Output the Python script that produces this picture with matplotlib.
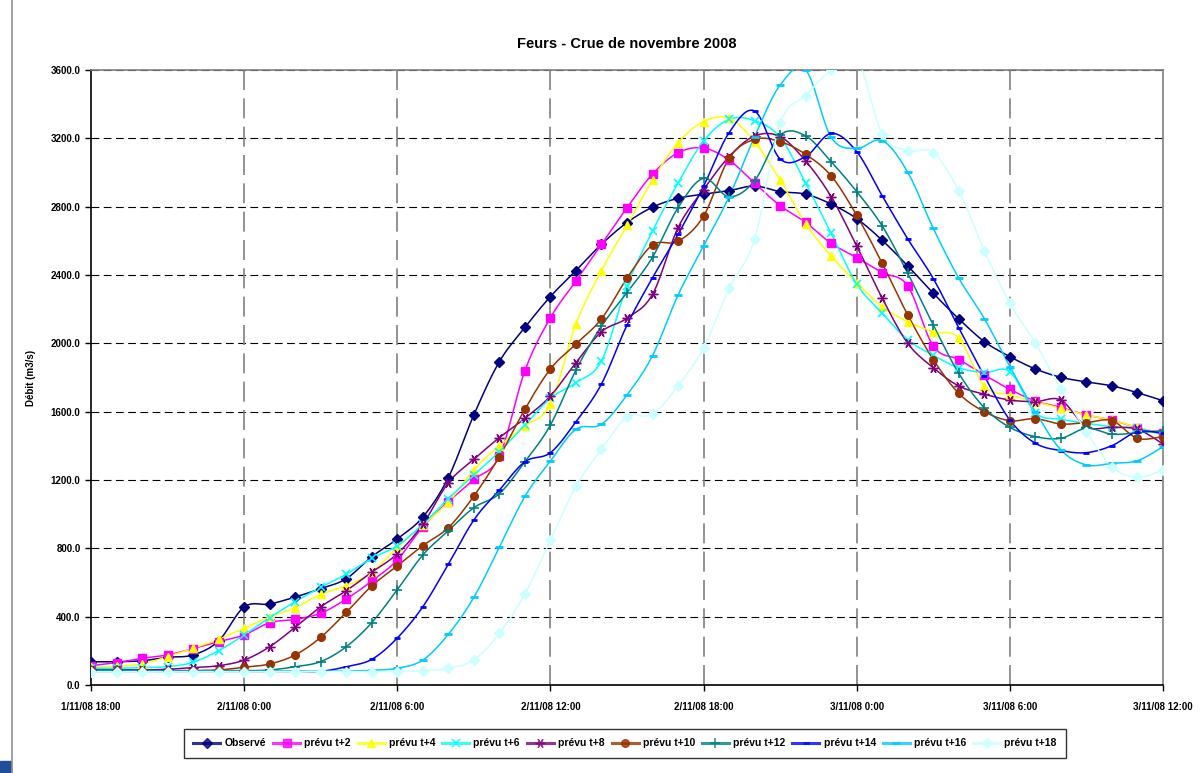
import numpy as np
import matplotlib
matplotlib.use("Agg")
import matplotlib.pyplot as plt
from matplotlib.lines import Line2D
from matplotlib.patches import Rectangle

plt.rcParams['font.family'] = ['Liberation Sans', 'DejaVu Sans']

# hourly values from 1/11/08 18:00 to 3/11/08 12:00 (43 points)
hours = list(range(43))
tick_hours = [0, 6, 12, 18, 24, 30, 36, 42]
tick_labels = ["1/11/08 18:00", "2/11/08 0:00", "2/11/08 6:00", "2/11/08 12:00",
               "2/11/08 18:00", "3/11/08 0:00", "3/11/08 6:00", "3/11/08 12:00"]

observe = [136, 136, 142, 162, 176, 258, 457, 474, 515, 564, 622, 751, 855,
           983, 1214, 1581, 1893, 2093, 2274, 2426, 2580, 2707, 2797, 2849, 2873,
           2894, 2921, 2888, 2873, 2815, 2730, 2603, 2453, 2293, 2143, 2010, 1922,
           1850, 1801, 1774, 1751, 1711, 1664]
prevu_t2 = [113, 131, 156, 176, 213, 254, 293, 365, 384, 420, 503, 609, 732,
            927, 1073, 1203, 1340, 1840, 2150, 2365, 2580, 2794, 2991, 3116, 3143,
            3073, 2937, 2806, 2708, 2585, 2502, 2414, 2336, 1984, 1905, 1815, 1731,
            1662, 1625, 1580, 1551, 1506, 1473]
prevu_t4 = [104, 111, 123, 166, 215, 267, 332, 400, 452, 531, 581, 660, 805,
            937, 1070, 1259, 1401, 1516, 1645, 2113, 2426, 2690, 2956, 3175, 3298,
            3317, 3181, 2956, 2699, 2511, 2355, 2215, 2127, 2068, 2031, 1750, 1698,
            1659, 1620, 1580, 1551, 1508, 1473]
prevu_t6 = [98, 98, 102, 107, 133, 201, 293, 394, 488, 572, 648, 742, 815,
            941, 1091, 1229, 1366, 1522, 1678, 1770, 1897, 2336, 2658, 2938, 3184,
            3311, 3303, 3206, 2937, 2644, 2347, 2176, 2020, 1930, 1857, 1829, 1834,
            1594, 1555, 1532, 1512, 1503, 1464]
prevu_t8 = [88, 88, 88, 92, 102, 113, 146, 224, 338, 458, 552, 660, 768,
            941, 1184, 1321, 1448, 1561, 1692, 1887, 2068, 2147, 2287, 2677, 2900,
            3093, 3214, 3210, 3067, 2858, 2570, 2264, 2000, 1857, 1750, 1702, 1668,
            1659, 1668, 1512, 1508, 1497, 1411]
prevu_t10 = [88, 88, 84, 84, 84, 88, 104, 123, 176, 279, 425, 580, 697,
             816, 921, 1106, 1337, 1614, 1850, 1996, 2143, 2381, 2576, 2597, 2745,
             3083, 3194, 3181, 3106, 2980, 2749, 2468, 2166, 1905, 1707, 1600, 1547,
             1559, 1528, 1536, 1547, 1444, 1454]
prevu_t12 = [88, 88, 84, 84, 84, 84, 84, 88, 107, 137, 224, 365, 558,
             761, 903, 1038, 1120, 1307, 1522, 1844, 2101, 2297, 2504, 2794, 2966,
             2858, 2952, 3219, 3214, 3063, 2888, 2687, 2410, 2107, 1824, 1623, 1508,
             1454, 1444, 1503, 1468, 1477, 1489]
prevu_t14 = [80, 80, 80, 80, 80, 80, 80, 80, 80, 80, 107, 150, 275,
             458, 707, 966, 1141, 1307, 1360, 1541, 1762, 2107, 2384, 2638, 2920,
             3233, 3360, 3079, 3093, 3229, 3122, 2863, 2611, 2379, 2090, 1809, 1551,
             1415, 1372, 1360, 1401, 1483, 1473]
prevu_t16 = [80, 80, 80, 80, 80, 80, 80, 80, 80, 80, 82, 86, 98,
             146, 297, 513, 806, 1104, 1311, 1497, 1526, 1698, 1928, 2283, 2570,
             2858, 3210, 3512, 3600, 3206, 3141, 3187, 3001, 2673, 2381, 2145, 1864,
             1600, 1376, 1288, 1298, 1313, 1395]
prevu_t18 = [78, 78, 78, 78, 78, 78, 78, 78, 78, 78, 78, 78, 78,
             84, 98, 146, 303, 533, 849, 1163, 1380, 1567, 1586, 1752, 1974,
             2322, 2611, 3288, 3450, 3600, 3670, 3225, 3128, 3116, 2894, 2542, 2234,
             2002, 1731, 1483, 1278, 1216, 1259]

series = [
    ("Observé", observe, "#000080", "D", 5, 1.0),
    ("prévu t+2", prevu_t2, "#FF00FF", "s", 5.5, 1.0),
    ("prévu t+4", prevu_t4, "#FFFF00", "^", 6, 1.0),
    ("prévu t+6", prevu_t6, "#00FFFF", "x", 6, 1.2),
    ("prévu t+8", prevu_t8, "#800080", (6, 2, 90), 7, 1.0),
    ("prévu t+10", prevu_t10, "#993300", "o", 5.5, 1.0),
    ("prévu t+12", prevu_t12, "#008080", "+", 7, 1.2),
    ("prévu t+14", prevu_t14, "#0000FF", "_", 4, 2.0),
    ("prévu t+16", prevu_t16, "#00CCFF", "_", 6, 2.0),
    ("prévu t+18", prevu_t18, "#CCFFFF", "D", 5, 1.0),
]


def smooth(x, y, n=12):
    # Excel-like smoothed line (Catmull-Rom Bezier through the points)
    x = np.asarray(x, float)
    y = np.asarray(y, float)
    xs, ys = [], []
    t = np.linspace(0, 1, n, endpoint=False)
    for i in range(len(x) - 1):
        i0 = max(i - 1, 0)
        i3 = min(i + 2, len(x) - 1)
        p1 = np.array([x[i], y[i]])
        p2 = np.array([x[i + 1], y[i + 1]])
        c1 = p1 + (p2 - np.array([x[i0], y[i0]])) / 6
        c2 = p2 - (np.array([x[i3], y[i3]]) - p1) / 6
        b = ((1 - t) ** 3)[:, None] * p1 + (3 * (1 - t) ** 2 * t)[:, None] * c1 \
            + (3 * (1 - t) * t ** 2)[:, None] * c2 + (t ** 3)[:, None] * p2
        xs.extend(b[:, 0])
        ys.extend(b[:, 1])
    xs.append(x[-1])
    ys.append(y[-1])
    return xs, ys


fig = plt.figure(figsize=(12.02, 7.73), dpi=100)
ax = fig.add_axes([91 / 1202, 1 - 685 / 773, (1163 - 91) / 1202, (685 - 70) / 773])

handles = []
for name, vals, col, mk, ms, mew in series:
    sx, sy = smooth(hours, vals)
    ax.plot(sx, sy, color=col, lw=1.1, zorder=3)
    ax.plot(hours, vals, ls="none", marker=mk, ms=ms, color=col, mec=col,
            mew=mew, zorder=4)
    handles.append(Line2D([], [], color=col, lw=2.2, marker=mk, ms=ms,
                          mec=col, mew=mew, alpha=0.8))

ax.set_xlim(0, 42)
ax.set_ylim(0, 3600)
ax.set_yticks(np.arange(0, 3601, 400))
ax.set_yticklabels([f"{v:.1f}" for v in np.arange(0, 3601, 400)])
ax.set_xticks(tick_hours)
ax.set_xticklabels(tick_labels)
ax.tick_params(axis="both", labelsize=7, length=4, width=1, direction="out")
ax.tick_params(axis="x", pad=8)
for lab in ax.get_xticklabels() + ax.get_yticklabels():
    lab.set_fontweight("bold")

for v in np.arange(400, 3601, 400):
    ax.axhline(v, color="#000000", lw=0.8, ls=(0, (7, 4)), zorder=1)
for h in tick_hours[1:-1]:
    ax.axvline(h, color="#808080", lw=1.2, ls=(0, (12, 5)), zorder=1)

ax.spines["left"].set_color("black")
ax.spines["bottom"].set_color("black")
ax.spines["top"].set_color("#808080")
ax.spines["right"].set_color("#808080")
for s in ax.spines.values():
    s.set_linewidth(1.2)

fig.text(627 / 1202, 1 - 44 / 773, "Feurs - Crue de novembre 2008",
         ha="center", va="center", fontsize=10.5, fontweight="bold")
fig.text(31 / 1202, 1 - 378 / 773, "Débit (m3/s)", rotation=90,
         ha="center", va="center", fontsize=7, fontweight="bold")

leg = fig.legend(handles, [s[0] for s in series], loc="center", ncol=10,
                 bbox_to_anchor=(184 / 1202, 1 - 762 / 773, (1066 - 184) / 1202, 37 / 773),
                 mode="expand", fontsize=7.5, frameon=True, fancybox=False,
                 edgecolor="black", handlelength=2.6, handletextpad=0.4,
                 borderaxespad=0, borderpad=0.9)
leg.get_frame().set_linewidth(1.0)
for t in leg.get_texts():
    t.set_fontweight("bold")

fig.add_artist(Line2D([11.5 / 1202, 11.5 / 1202], [0, 1], color="#909090", lw=1.2))
fig.add_artist(Rectangle((0, 0), 11 / 1202, 12 / 773, color="#1F4E9A"))

fig.savefig("out.png", dpi=100)
